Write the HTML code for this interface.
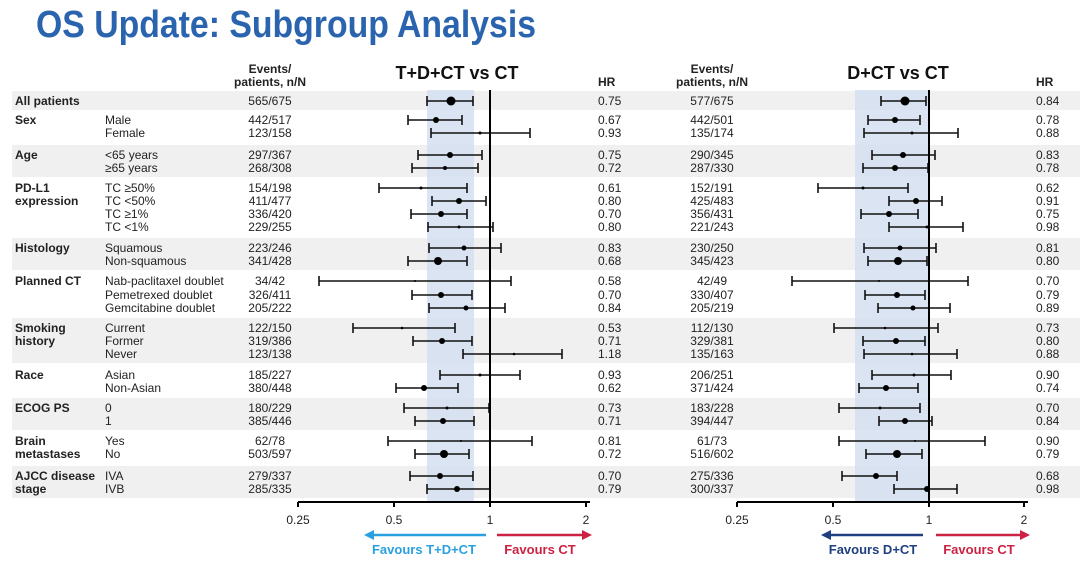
<!DOCTYPE html>
<html><head><meta charset="utf-8"><style>
body{margin:0;background:#fff;width:1080px;height:564px;overflow:hidden}
svg{display:block;font-family:"Liberation Sans",Arial,sans-serif}
</style></head><body>
<svg id="s" width="1080" height="564" xmlns="http://www.w3.org/2000/svg">
<text x="36" y="37" font-size="38" font-weight="bold" fill="#2b64ae" textLength="500" lengthAdjust="spacingAndGlyphs">OS Update: Subgroup Analysis</text>
<g id="bg"></g>
<rect x="427" y="90" width="47" height="412" fill="#d5dff0" opacity="0.85"/>
<rect x="855" y="90" width="75" height="412" fill="#d5dff0" opacity="0.85"/>
<g font-size="12" font-weight="bold" fill="#222">
<text x="270" y="73" text-anchor="middle">Events/</text>
<text x="270" y="86" text-anchor="middle">patients, n/N</text>
<text x="712" y="73" text-anchor="middle">Events/</text>
<text x="712" y="86" text-anchor="middle">patients, n/N</text>
<text x="598" y="86">HR</text>
<text x="1036" y="86">HR</text>
</g>
<text x="457" y="79" font-size="18" font-weight="bold" text-anchor="middle" fill="#111">T+D+CT vs CT</text>
<text x="898" y="79" font-size="18" font-weight="bold" text-anchor="middle" fill="#111">D+CT vs CT</text>
<g id="rows" font-size="12" fill="#222"></g>
<line x1="490" y1="90" x2="490" y2="502" stroke="#000" stroke-width="2"/>
<line x1="929" y1="90" x2="929" y2="502" stroke="#000" stroke-width="2"/>
<g stroke="#000" stroke-width="2">
<line x1="298" y1="502" x2="590" y2="502"/>
<line x1="298" y1="502" x2="298" y2="507"/><line x1="394" y1="502" x2="394" y2="507"/><line x1="490" y1="502" x2="490" y2="507"/><line x1="586" y1="502" x2="586" y2="507"/>
<line x1="737" y1="502" x2="1028" y2="502"/>
<line x1="737" y1="502" x2="737" y2="507"/><line x1="833" y1="502" x2="833" y2="507"/><line x1="929" y1="502" x2="929" y2="507"/><line x1="1024" y1="502" x2="1024" y2="507"/>
</g>
<g font-size="12" fill="#222" text-anchor="middle">
<text x="298" y="524">0.25</text><text x="394" y="524">0.5</text><text x="490" y="524">1</text><text x="586" y="524">2</text>
<text x="737" y="524">0.25</text><text x="833" y="524">0.5</text><text x="929" y="524">1</text><text x="1024" y="524">2</text>
</g>
<g stroke-width="2.5">
<line x1="372" y1="535" x2="486" y2="535" stroke="#2aa0e0"/><polygon points="364,535 374,530 374,540" fill="#2aa0e0"/>
<line x1="497" y1="535" x2="584" y2="535" stroke="#cc2244"/><polygon points="592,535 582,530 582,540" fill="#cc2244"/>
<line x1="829" y1="535" x2="923" y2="535" stroke="#1f3f80"/><polygon points="821,535 831,530 831,540" fill="#1f3f80"/>
<line x1="936" y1="535" x2="1022" y2="535" stroke="#cc2244"/><polygon points="1030,535 1020,530 1020,540" fill="#cc2244"/>
</g>
<g font-size="13" font-weight="bold">
<text x="424" y="554" text-anchor="middle" fill="#2aa0e0">Favours T+D+CT</text>
<text x="540" y="554" text-anchor="middle" fill="#cc2244">Favours CT</text>
<text x="873" y="554" text-anchor="middle" fill="#1f3f80">Favours D+CT</text>
<text x="979" y="554" text-anchor="middle" fill="#cc2244">Favours CT</text>
</g>
</svg>
<script>
var NS="http://www.w3.org/2000/svg";
function el(p,t,a,txt){var e=document.createElementNS(NS,t);for(var k in a)e.setAttribute(k,a[k]);if(txt!=null)e.textContent=txt;p.appendChild(e);return e;}
var groups=[
[1,["All patients"],[101]],
[0,["Sex"],[120,133]],
[1,["Age"],[155,168]],
[0,["PD-L1","expression"],[188,201,214,227]],
[1,["Histology"],[248,261]],
[0,["Planned CT"],[281,295,308]],
[1,["Smoking","history"],[328,341,354]],
[0,["Race"],[375,388]],
[1,["ECOG PS"],[408,421]],
[0,["Brain","metastases"],[441,454]],
[1,["AJCC disease","stage"],[476,489]]];
var rows=[
["",   "565/675","0.75",427,473,451,4.5,"577/675","0.84",881,926,905,4.5],
["Male","442/517","0.67",408,462,436,3,"442/501","0.78",868,920,895,3],
["Female","123/158","0.93",431,530,480,1.5,"135/174","0.88",864,958,912,1.5],
["<65 years","297/367","0.75",418,482,450,3,"290/345","0.83",872,935,903,3],
["≥65 years","268/308","0.72",412,478,445,2,"287/330","0.78",863,928,895,3],
["TC ≥50%","154/198","0.61",379,467,421,1.5,"152/191","0.62",818,908,863,1.5],
["TC <50%","411/477","0.80",432,486,459,3,"425/483","0.91",889,942,916,3],
["TC ≥1%","336/420","0.70",411,467,441,3,"356/431","0.75",861,918,889,3],
["TC <1%","229/255","0.80",428,493,459,1.5,"221/243","0.98",889,963,927,1.5],
["Squamous","223/246","0.83",429,501,464,2.5,"230/250","0.81",864,936,900,2.5],
["Non-squamous","341/428","0.68",408,467,438,4,"345/423","0.80",868,927,898,4],
["Nab-paclitaxel doublet","34/42","0.58",319,511,415,1,"42/49","0.70",792,968,879,1],
["Pemetrexed doublet","326/411","0.70",412,472,441,3,"330/407","0.79",865,925,897,3],
["Gemcitabine doublet","205/222","0.84",429,505,466,2.5,"205/219","0.89",878,950,913,2.5],
["Current","122/150","0.53",353,455,402,1.3,"112/130","0.73",834,938,885,1.3],
["Former","319/386","0.71",413,472,442,3,"329/381","0.80",863,925,896,3],
["Never","123/138","1.18",463,562,514,1.3,"135/163","0.88",864,957,912,1.3],
["Asian","185/227","0.93",440,520,480,1.5,"206/251","0.90",872,951,914,1.5],
["Non-Asian","380/448","0.62",396,458,424,3,"371/424","0.74",859,918,886,3],
["0","180/229","0.73",404,489,447,1.5,"183/228","0.70",839,920,880,1.5],
["1","385/446","0.71",415,474,443,3,"394/447","0.84",879,932,905,3],
["Yes","62/78","0.81",388,532,461,1,"61/73","0.90",839,985,915,1],
["No","503/597","0.72",415,469,444,4,"516/602","0.79",866,922,897,4],
["IVA","279/337","0.70",410,473,440,3,"275/336","0.68",842,897,876,3],
["IVB","285/335","0.79",427,490,457,3,"300/337","0.98",894,957,927,3]];
var bg=document.getElementById("bg"),R=document.getElementById("rows");
var ri=0;
groups.forEach(function(g){
 var ys=g[2],top=ys[0]-10,bot=ys[ys.length-1]+9;
 if(g[0])el(bg,"rect",{x:12,y:top,width:1068,height:bot-top,fill:"#f0f0f0"});
 g[1].forEach(function(t,i){el(R,"text",{x:15,y:ys[0]+4+i*13,"font-weight":"bold"},t);});
 ys.forEach(function(y){
  var r=rows[ri++];var ty=y+4;
  if(r[0])el(R,"text",{x:105,y:ty},r[0]);
  el(R,"text",{x:270,y:ty,"text-anchor":"middle"},r[1]);
  el(R,"text",{x:598,y:ty},r[2]);
  el(R,"text",{x:712,y:ty,"text-anchor":"middle"},r[7]);
  el(R,"text",{x:1036,y:ty},r[8]);
  [[3,4,5,6],[9,10,11,12]].forEach(function(c){
   var a=r[c[0]],b=r[c[1]];
   el(R,"line",{x1:a,y1:y,x2:b,y2:y,stroke:"#111","stroke-width":1.6});
   el(R,"line",{x1:a,y1:y-5,x2:a,y2:y+5,stroke:"#111","stroke-width":1.6});
   el(R,"line",{x1:b,y1:y-5,x2:b,y2:y+5,stroke:"#111","stroke-width":1.6});
   el(R,"circle",{cx:r[c[2]],cy:y,r:r[c[3]],fill:"#000"});
  });
 });
});
</script>
</body></html>
